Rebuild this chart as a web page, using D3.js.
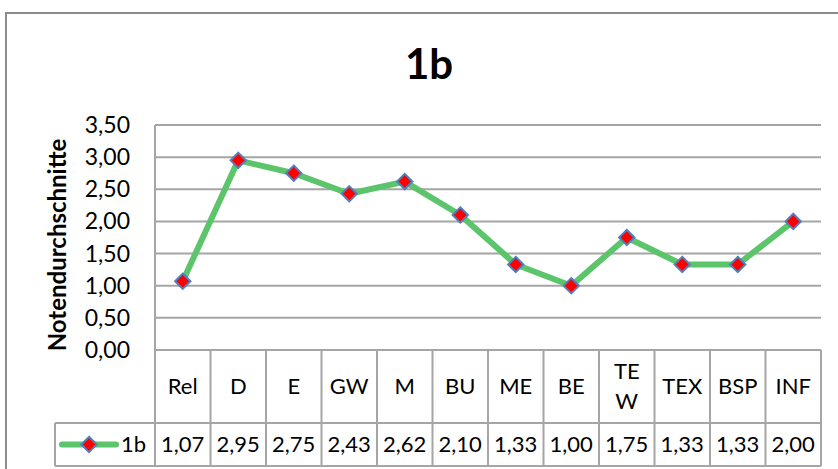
<!DOCTYPE html>
<html lang="de">
<head>
<meta charset="UTF-8">
<title>1b</title>
<script src="https://cdn.jsdelivr.net/npm/d3@7"></script>
<style>
  body { margin: 0; background: #fff; }
  svg { display: block; font-family: Lato, "Open Sans", sans-serif; }
</style>
</head>
<body>
<div id="chart"></div>
<script>
// data
const categories = ["Rel", "D", "E", "GW", "M", "BU", "ME", "BE", "TEW", "TEX", "BSP", "INF"];
const catLabels = [["Rel"], ["D"], ["E"], ["GW"], ["M"], ["BU"], ["ME"], ["BE"], ["TE", "W"], ["TEX"], ["BSP"], ["INF"]];
const values = [1.07, 2.95, 2.75, 2.43, 2.62, 2.10, 1.33, 1.00, 1.75, 1.33, 1.33, 2.00];
const yTicks = [0, 0.5, 1, 1.5, 2, 2.5, 3, 3.5];
const seriesName = "1b";

const width = 838, height = 469;
const plotLeft = 155, plotRight = 821, plotTop = 125, plotBottom = 350;
const catRowBottom = 423, dataRowBottom = 466, legendLeft = 55;
const gridColor = "#a5a5a5";
const lineColor = "#5cc46b";

const de = d3.formatLocale({ decimal: ",", thousands: ".", grouping: [3], currency: ["", " €"] });
const fmt = de.format(".2f");

const svg = d3.select("#chart").append("svg")
    .attr("width", width)
    .attr("height", height);

// chart border (runs past the window bottom/right)
svg.append("rect")
    .attr("x", 6).attr("y", 13)
    .attr("width", width + 20).attr("height", height + 20)
    .attr("fill", "none")
    .attr("stroke", "#8c8c8c")
    .attr("stroke-width", 2);

const x = d3.scaleBand().domain(categories).range([plotLeft, plotRight]).padding(0);
const y = d3.scaleLinear().domain([0, 3.5]).range([plotBottom, plotTop]);

// title
svg.append("text")
    .attr("x", 429).attr("y", 79)
    .attr("text-anchor", "middle")
    .attr("font-size", 42)
    .attr("font-weight", "bold")
    .text("1b");

// y axis title
svg.append("text")
    .attr("transform", `translate(66,245) rotate(-90)`)
    .attr("text-anchor", "middle")
    .attr("font-size", 24)
    .attr("font-weight", "bold")
    .text("Notendurchschnitte");

// gridlines
svg.append("g").selectAll("line")
    .data(yTicks.filter(d => d > 0))
    .join("line")
    .attr("x1", plotLeft).attr("x2", plotRight)
    .attr("y1", d => y(d)).attr("y2", d => y(d))
    .attr("stroke", gridColor)
    .attr("stroke-width", 2);

// y tick labels
svg.append("g").selectAll("text")
    .data(yTicks)
    .join("text")
    .attr("x", 130)
    .attr("y", d => y(d))
    .attr("dy", "0.35em")
    .attr("text-anchor", "end")
    .attr("font-size", 23)
    .text(d => fmt(d));

// data table grid
const tbl = svg.append("g")
    .attr("stroke", gridColor)
    .attr("stroke-width", 2);
tbl.append("line").attr("x1", plotLeft).attr("x2", plotRight).attr("y1", plotBottom).attr("y2", plotBottom);
tbl.append("line").attr("x1", legendLeft).attr("x2", plotRight).attr("y1", catRowBottom).attr("y2", catRowBottom);
tbl.append("line").attr("x1", legendLeft).attr("x2", plotRight).attr("y1", dataRowBottom).attr("y2", dataRowBottom);
tbl.append("line").attr("x1", legendLeft).attr("x2", legendLeft).attr("y1", catRowBottom).attr("y2", dataRowBottom);
tbl.append("line").attr("x1", plotLeft).attr("x2", plotLeft).attr("y1", plotTop).attr("y2", dataRowBottom);
tbl.selectAll(".sep")
    .data(categories)
    .join("line")
    .attr("class", "sep")
    .attr("x1", d => x(d) + x.bandwidth())
    .attr("x2", d => x(d) + x.bandwidth())
    .attr("y1", plotBottom).attr("y2", dataRowBottom);

// category labels
const catG = svg.append("g").attr("font-size", 22).attr("text-anchor", "middle");
catLabels.forEach((lines, i) => {
    const cx = x(categories[i]) + x.bandwidth() / 2;
    const cy = (plotBottom + catRowBottom) / 2;
    const t = catG.append("text").attr("x", cx).attr("y", cy);
    lines.forEach((ln, j) => {
        t.append("tspan")
            .attr("x", cx)
            .attr("y", cy + (j - (lines.length - 1) / 2) * 30)
            .attr("dy", "0.35em")
            .text(ln);
    });
});

// value row
svg.append("g").selectAll("text")
    .data(values)
    .join("text")
    .attr("x", (d, i) => x(categories[i]) + x.bandwidth() / 2)
    .attr("y", (catRowBottom + dataRowBottom) / 2)
    .attr("dy", "0.35em")
    .attr("text-anchor", "middle")
    .attr("font-size", 22)
    .text(d => fmt(d));

// line + markers
const pts = values.map((v, i) => [x(categories[i]) + x.bandwidth() / 2, y(v)]);
svg.append("path")
    .attr("d", d3.line()(pts))
    .attr("fill", "none")
    .attr("stroke", lineColor)
    .attr("stroke-width", 6)
    .attr("stroke-linejoin", "round");

const diamond = d3.symbol().type(d3.symbolDiamond2).size(150);
svg.append("g").selectAll("path")
    .data(pts)
    .join("path")
    .attr("transform", d => `translate(${d[0]},${d[1]})`)
    .attr("d", diamond)
    .attr("fill", "#ff0000")
    .attr("stroke", "#4f81bd")
    .attr("stroke-width", 2);

// legend key in table
const ly = (catRowBottom + dataRowBottom) / 2;
svg.append("line")
    .attr("x1", 62).attr("x2", 116)
    .attr("y1", ly).attr("y2", ly)
    .attr("stroke", lineColor)
    .attr("stroke-width", 6)
    .attr("stroke-linecap", "round");
svg.append("path")
    .attr("transform", `translate(89,${ly})`)
    .attr("d", diamond)
    .attr("fill", "#ff0000")
    .attr("stroke", "#4f81bd")
    .attr("stroke-width", 2);
svg.append("text")
    .attr("x", 121).attr("y", ly)
    .attr("dy", "0.35em")
    .attr("font-size", 22)
    .text(seriesName);
</script>
</body>
</html>
